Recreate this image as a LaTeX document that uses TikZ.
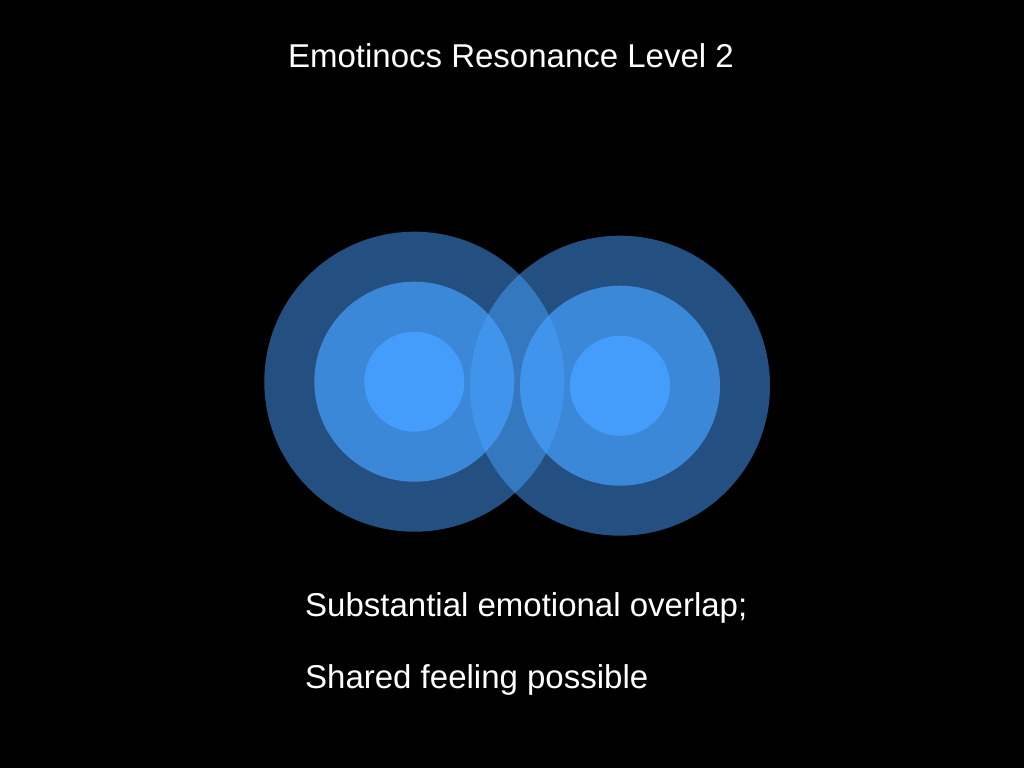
\documentclass[tikz,border=0pt]{standalone}
\usepackage{fontspec}
\setmainfont{Liberation Sans}
\usepackage{tikz}
\definecolor{ringblue}{HTML}{46A0FF}

\begin{document}
\begin{tikzpicture}[x=1pt,y=-1pt,
  outerring/.style={fill=ringblue,fill opacity=0.5},
  midring/.style={fill=ringblue,fill opacity=0.7},
  innerring/.style={fill=ringblue,fill opacity=0.9},
  label/.style={text=white,inner sep=0pt,font=\fontsize{33}{40}\selectfont}]

  \fill[black] (0,0) rectangle (1024,768);

  \node[label,anchor=base] (title) at (511,67) {Emotinocs Resonance Level 2};

  % left set
  \coordinate (left) at (414.3,381.7);
  \fill[outerring] (left) circle[radius=150pt];
  \fill[midring] (left) circle[radius=100pt];
  \fill[innerring] (left) circle[radius=50pt];

  % right set
  \coordinate (right) at (620,385.7);
  \fill[outerring] (right) circle[radius=150pt];
  \fill[midring] (right) circle[radius=100pt];
  \fill[innerring] (right) circle[radius=50pt];

  \node[label,anchor=base west] (overlap) at (305,616) {Substantial emotional overlap;};
  \node[label,anchor=base west] (shared) at (305,688.3) {Shared feeling possible};
\end{tikzpicture}
\end{document}
